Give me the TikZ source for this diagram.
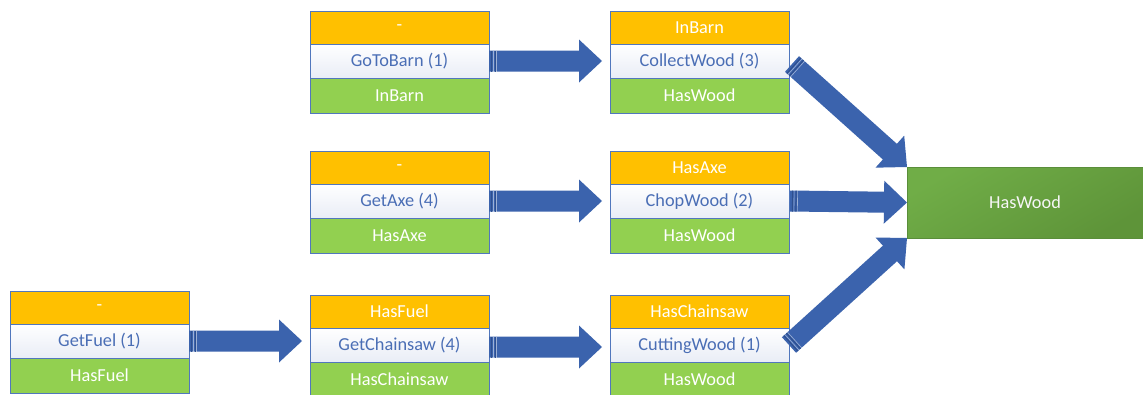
\documentclass[tikz,border=0pt]{standalone}
\usepackage{fontspec}
\setmainfont{Carlito}
\usetikzlibrary{calc}
\definecolor{orangeC}{HTML}{FFC000}
\definecolor{greenC}{HTML}{92D050}
\definecolor{borderC}{HTML}{5177BD}
\definecolor{textblue}{HTML}{4A6EB5}
\definecolor{actbot}{HTML}{E9EDF6}
\definecolor{arrowC}{HTML}{3B63AD}
\definecolor{stripeC}{HTML}{2E4F8E}
\definecolor{hwtop}{HTML}{70AD47}
\definecolor{hwbot}{HTML}{5E9439}
\definecolor{hwborder}{HTML}{5A8E3A}
\tikzset{
  sect/.style={minimum width=179pt, inner sep=0pt, outer sep=0pt, anchor=north west,
    draw=borderC, line width=0.8pt, font=\fontsize{18.3}{21}\selectfont},
  presect/.style={sect, fill=orangeC, text=white, minimum height=33pt},
  actsect/.style={sect, top color=white, bottom color=actbot, text=textblue, minimum height=34pt},
  postsect/.style={sect, fill=greenC, text=white, minimum height=35pt},
  goalbox/.style={minimum width=236pt, minimum height=71pt, inner sep=0pt, outer sep=0pt,
    anchor=north west, draw=hwborder, line width=0.8pt, top color=hwtop, bottom color=hwbot,
    shading angle=30, text=white!93!gray, font=\fontsize{18.3}{21}\selectfont},
  arrowfill/.style={fill=arrowC},
  stripe/.style={draw=white, opacity=0.5, line width=0.6pt},
  darkstripe/.style={draw=stripeC, line width=1pt}
}
\newcommand\taskbox[6]{%
  \node[presect] (#1o) at (#2,#3) {#4};
  \node[actsect] (#1w) at (#1o.south west) {#5};
  \node[postsect] (#1g) at (#1w.south west) {#6};}
\newcommand\blockarrow[2]{%
  \path let \p1=(#1), \p2=(#2) in \pgfextra{%
    \pgfmathsetmacro\arang{atan2(\y2-\y1,\x2-\x1)}%
    \pgfmathsetmacro\arlen{veclen(\x2-\x1,\y2-\y1)}%
    \global\let\garang\arang \global\let\garlen\arlen};
  \begin{scope}[shift={(#1)}, rotate=\garang]
    \fill[arrowfill] (0pt,-10.5pt) -- (\garlen pt-23pt,-10.5pt) -- (\garlen pt-23pt,-21.5pt)
      -- (\garlen pt,0pt) -- (\garlen pt-23pt,21.5pt) -- (\garlen pt-23pt,10.5pt)
      -- (0pt,10.5pt) -- cycle;
    \draw[darkstripe] (2.5pt,-10.5pt) -- (2.5pt,10.5pt);
    \draw[stripe] (4pt,-10.5pt) -- (4pt,10.5pt);
    \draw[darkstripe] (6pt,-10.5pt) -- (6pt,10.5pt);
    \draw[stripe] (7.5pt,-10.5pt) -- (7.5pt,10.5pt);
  \end{scope}}
\begin{document}
\begin{tikzpicture}[x=1pt,y=-1pt]
\useasboundingbox (0,0) rectangle (1143,394);
\taskbox{a2}{310}{11}{-}{GoToBarn (1)}{InBarn}
\taskbox{a3}{610}{11}{InBarn}{CollectWood (3)}{HasWood}
\taskbox{m2}{310}{151}{-}{GetAxe (4)}{HasAxe}
\taskbox{m3}{610}{151}{HasAxe}{ChopWood (2)}{HasWood}
\taskbox{c1}{10}{291}{-}{GetFuel (1)}{HasFuel}
\taskbox{c2}{310}{295}{HasFuel}{GetChainsaw (4)}{HasChainsaw}
\taskbox{c3}{610}{295}{HasChainsaw}{CuttingWood (1)}{HasWood}
\node[goalbox] (hw) at (907,167) {HasWood};
% arrow end points
\coordinate (ha1) at ($(a2w.east -| a3w.west)+(-8,0)$);
\coordinate (ha2) at ($(m2w.east -| m3w.west)+(-8,0)$);
\coordinate (ha3) at ($(c1w.east -| c2w.west)+(-8,0)$);
\coordinate (ta4) at ($(c2w.east)+(0,2)$);
\coordinate (ha4) at ($(c2w.east -| c3w.west)+(-8,2)$);
\coordinate (td1) at ($(a3w.east)+(3,3)$);
\coordinate (td2) at ($(m3w.east)+(1,0)$);
\coordinate (hd2) at ($(hw.west)+(0,0)$);
\coordinate (td3) at ($(c3w.east)+(0,0)$);
\blockarrow{a2w.east}{ha1}
\blockarrow{m2w.east}{ha2}
\blockarrow{c1w.east}{ha3}
\blockarrow{ta4}{ha4}
\blockarrow{td1}{hw.north west}
\blockarrow{td2}{hd2}
\blockarrow{td3}{hw.south west}
\end{tikzpicture}
\end{document}
